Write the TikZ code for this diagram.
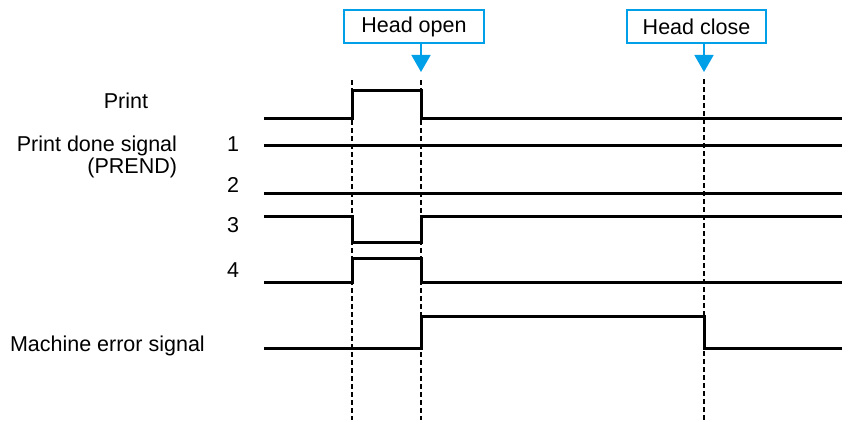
\documentclass[tikz,border=0pt]{standalone}
\usepackage{fontspec}
\setmainfont{Liberation Sans}
\usetikzlibrary{arrows.meta,positioning}
\definecolor{headblue}{RGB}{0,160,233}

\begin{document}
\begin{tikzpicture}[
  x=1pt,
  y=-1pt,
  font=\fontsize{21.5}{22}\selectfont,
  signal/.style={
    draw=black,
    line width=3pt,
    line join=miter
  },
  marker/.style={
    draw=black,
    dash pattern=on 5pt off 3pt,
    line width=1.4pt
  },
  event/.style={
    draw=headblue,
    fill=white,
    line width=1.7pt,
    minimum height=33pt,
    inner sep=0pt,
    outer sep=0pt
  },
  event arrow/.style={
    -{Triangle[length=17pt,width=19pt]},
    draw=headblue,
    line width=1.7pt
  },
  row label/.style={
    inner sep=0pt,
    outer sep=0pt
  }
]

\useasboundingbox (0,0) rectangle (842,420);

% event boxes and where they point
\node[event,minimum width=140pt] (head-open) at (414,26.5) {Head open};
\node[event,minimum width=139pt] (head-close) at (696.5,26.5) {Head close};

\coordinate (open-tip) at (421,72);
\coordinate (close-tip) at (704,72);

\draw[event arrow] (head-open.south -| open-tip) -- (open-tip);
\draw[event arrow] (head-close.south -| close-tip) -- (close-tip);

% time markers
\foreach \t/\top in {352/80,421/80,704/79}
  \draw[marker] (\t,\top) -- (\t,420);

% row labels
\node[row label] (print-label) at (126,100.5) {Print};
\node[row label,align=right,anchor=east] (prend-label) at (177,157)
  {Print done signal\\(PREND)};
\node[row label] (row-1) at (233,144) {1};
\node[row label] (row-2) at (233,184.5) {2};
\node[row label] (row-3) at (233,225.5) {3};
\node[row label] (row-4) at (233,270.5) {4};
\node[row label,anchor=west] (error-label) at (10,346) {Machine error signal};

% waveforms
\draw[signal] (264,118) -- (352,118) -- (352,90) -- (421,90) -- (421,118) -- (842,118);
\draw[signal] (264,145) -- (842,145);
\draw[signal] (264,193) -- (842,193);
\draw[signal] (264,216) -- (352,216) -- (352,242) -- (421,242) -- (421,216) -- (842,216);
\draw[signal] (264,282) -- (352,282) -- (352,258) -- (421,258) -- (421,282) -- (842,282);
\draw[signal] (264,348) -- (421,348) -- (421,316) -- (704,316) -- (704,348) -- (842,348);

\end{tikzpicture}
\end{document}
